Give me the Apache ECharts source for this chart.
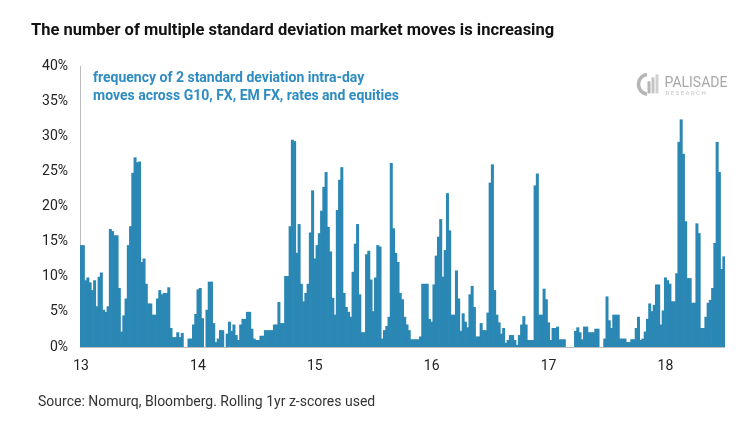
<!DOCTYPE html>
<html><head><meta charset="utf-8">
<script src="https://cdn.jsdelivr.net/npm/echarts@6.0.0/dist/echarts.min.js"></script>
<style>html,body{margin:0;padding:0;background:#fff}#c{width:752px;height:431px}</style>
</head><body><div id="c"></div><script>
const yearLabels = ['13','14','15','16','17','18'];
const v2013 = [14.5,14.5,9.5,9.9,9.2,8.1,9.5,5.8,10.0,10.6,5.3,5.0,5.8,16.8,16.5,15.9,15.9,8.4,2.2,4.5,6.9,14.5,17.2,24.8,27.0,26.3,26.4,12.1,12.6,9.0,6.2,6.2,4.6,4.6,6.9,8.1,7.5,7.7,7.7,8.5,2.7,1.4,1.4,2.1,1.4,2.0,0,0,1.2,1.2,3.2,4.7];
const v2014 = [8.2,8.4,4.1,0,5.3,9.3,9.3,3.4,0.7,1.2,2.4,2.4,0,1.9,3.6,2.3,3.2,1.7,1.0,3.2,4.0,4.0,5.0,5.0,2.6,1.2,1.0,1.0,1.6,1.6,2.4,2.4,2.4,2.4,3.2,3.2,6.4,3.4,3.4,10.1,10.1,17.2,29.5,29.3,13.4,17.5,9.0,6.5,7.7,9.0,16.3,22.3];
const v2015 = [12.6,14.5,16.2,19.4,22.8,24.9,17.1,13.6,7.0,4.6,19.5,23.8,25.6,7.7,5.7,5.0,4.3,10.7,14.7,17.5,7.5,2.1,2.1,13.2,13.7,9.6,5.1,9.9,14.5,14.3,1.2,2.4,3.0,4.3,26.2,16.9,13.4,12.1,7.7,6.8,4.3,3.2,2.4,1.1,1.1,1.1,1.1,1.5,9.0,9.0,9.0,4.0];
const v2016 = [3.6,8.9,13.0,15.7,18.2,10.0,13.8,21.9,16.6,4.6,4.6,10.9,6.9,2.3,4.8,3.6,2.8,7.5,8.7,5.7,1.5,1.5,3.4,2.4,2.4,4.9,23.4,26.0,8.1,4.6,3.5,1.9,2.7,0.6,1.0,1.7,1.7,1.0,0.3,1.7,3.2,4.4,3.2,1.0,1.0,1.0,23.0,24.7,4.6,4.6,8.3,6.8];
const v2017 = [3.5,1.0,2.7,2.7,2.9,1.1,1.1,1.1,0,0,0,0,2.3,2.8,2.1,1.1,2.9,2.9,2.1,2.1,2.1,2.6,2.6,0,0,1.2,7.2,3.8,2.7,4.6,4.6,4.6,1.2,1.2,1.2,0.7,0.7,1.1,1.1,2.7,4.3,1.0,1.2,2.2,4.0,6.2,5.1,6.0,8.9,8.9,3.2,5.2];
const v2018 = [9.9,9.5,9.0,6.5,6.5,10.5,29.2,32.4,27.5,17.9,9.8,9.8,6.3,6.3,17.6,16.2,2.7,2.7,4.3,6.3,6.7,8.4,14.8,29.2,24.9,11.1,12.9];

const yearly = [v2013,v2014,v2015,v2016,v2017,v2018];
const categories = [];
const values = [];
yearly.forEach((arr, yi) => {
  arr.forEach((v, k) => { categories.push(yearLabels[yi] + '-' + k); values.push(v); });
});

const blue = '#2b87b4';
const chart = echarts.init(document.getElementById('c'), null, {renderer:'canvas'});
chart.setOption({
  animation: false,
  backgroundColor: '#fff',
  grid: {left: 80, right: 27, top: 66, bottom: 84, containLabel: false},
  title: {
    text: 'The number of multiple standard deviation market moves is increasing',
    left: 26, top: 17,
    textStyle: {fontFamily: 'Roboto', fontWeight: 'bold', fontSize: 16.5, color: '#111'}
  },
  xAxis: {
    type: 'category', data: categories, boundaryGap: true,
    axisLine: {lineStyle: {color: '#bdbdbd', width: 1}},
    axisTick: {show: false},
    axisLabel: {
      interval: (i, v) => v.endsWith('-0'),
      formatter: v => v.split('-')[0],
      fontFamily: 'Roboto', fontSize: 14, color: '#222', margin: 12
    }
  },
  yAxis: {
    type: 'value', min: 0, max: 40, interval: 5,
    axisLine: {show: true, lineStyle: {color: '#bdbdbd', width: 1}},
    axisTick: {show: false},
    splitLine: {show: false},
    axisLabel: {formatter: '{value}%', fontFamily: 'Roboto', fontSize: 14, color: '#222', margin: 12}
  },
  series: [{
    type: 'bar', data: values, barWidth: 3,
    itemStyle: {color: blue},
    emphasis: {disabled: true}
  }],
  graphic: [
    {type: 'text', left: 93, top: 69, style: {text: 'frequency of 2 standard deviation intra-day\nmoves across G10, FX, EM FX, rates and equities', fill: '#2e8cc2', font: 'bold 14px Roboto', lineHeight: 18}},
    {type: 'text', left: 38, top: 395, style: {text: 'Source: Nomurq, Bloomberg. Rolling 1yr z-scores used', fill: '#333', font: '14px Roboto'}},
    {type: 'group', left: 636, top: 72, children: [
      {type: 'arc', shape: {cx: 12, cy: 12, r: 10, startAngle: Math.PI*0.55, endAngle: Math.PI*1.45}, style: {stroke: '#b5b5b5', lineWidth: 3.5, fill: null}},
      {type: 'rect', shape: {x: 11, y: 9, width: 3, height: 12}, style: {fill: '#b5b5b5'}},
      {type: 'rect', shape: {x: 15, y: 5, width: 3, height: 16}, style: {fill: '#c4c4c4'}},
      {type: 'rect', shape: {x: 19, y: 2, width: 3, height: 19}, style: {fill: '#d0d0d0'}},
      {type: 'text', x: 28, y: 4, style: {text: 'PALISADE', fill: '#a8a8a8', font: '14px Roboto'}},
      {type: 'text', x: 29, y: 18, style: {text: 'R E S E A R C H', fill: '#c6c6c6', font: '6px Roboto'}}
    ]}
  ]
});
</script></body></html>
